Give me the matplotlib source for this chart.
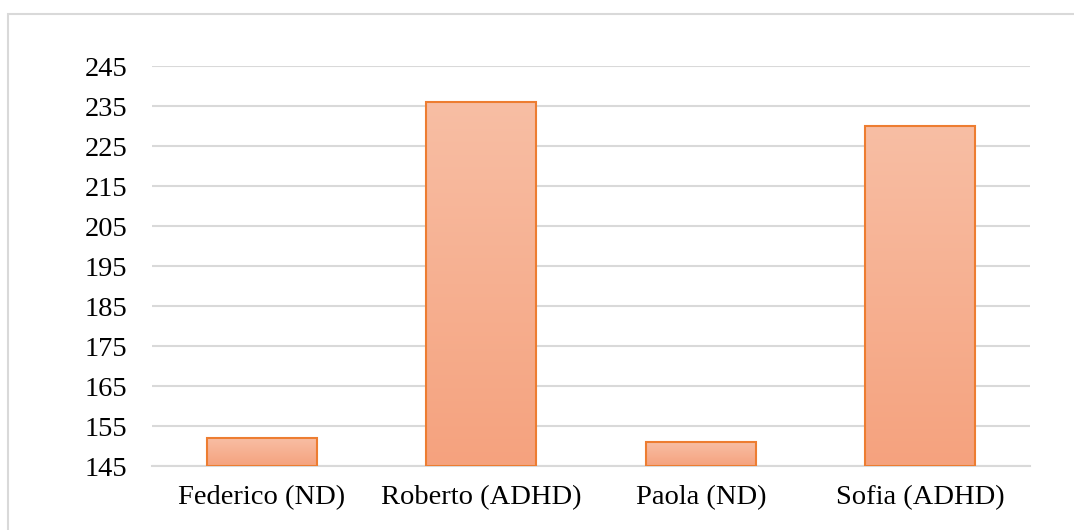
import matplotlib.pyplot as plt
import numpy as np
import matplotlib.patches as patches
from matplotlib.colors import LinearSegmentedColormap

# data
categories = ['Federico (ND)', 'Roberto (ADHD)', 'Paola (ND)', 'Sofia (ADHD)']
values = [152, 236, 151, 230]
y_ticks = [145, 155, 165, 175, 185, 195, 205, 215, 225, 235, 245]

plt.rcParams['font.family'] = ['Liberation Serif', 'DejaVu Serif']

W, H = 1074, 530
fig = plt.figure(figsize=(W / 100, H / 100), dpi=100)

# light grey frame round the chart area
frame = patches.Rectangle((8 / W, -0.1), 1.2, (H - 14) / H + 0.1, transform=fig.transFigure,
                          fill=False, edgecolor='#D9D9D9', linewidth=1.5, zorder=0)
fig.patches.append(frame)

ax = fig.add_axes([152 / W, (H - 466) / H, (1030 - 152) / W, (466 - 66) / H])

x = np.arange(len(categories))
bars = ax.bar(x, [v - y_ticks[0] for v in values], bottom=y_ticks[0], width=0.5,
              facecolor='none', edgecolor='#ED7D31', linewidth=1.5, zorder=3)

# vertical gradient inside each bar (light at top, darker at bottom)
cmap = LinearSegmentedColormap.from_list('grad', ['#F5A27E', '#F8BEA4'])
grad = np.linspace(0, 1, 256).reshape(-1, 1)
for b in bars:
    x0, y0 = b.get_x(), b.get_y()
    ax.imshow(grad, extent=(x0, x0 + b.get_width(), y0, y0 + b.get_height()),
              origin='lower', cmap=cmap, aspect='auto', zorder=2)

ax.set_xlim(-0.5, len(categories) - 0.5)
ax.set_ylim(y_ticks[0], y_ticks[-1])
ax.set_yticks(y_ticks)
ax.set_xticks(x)
ax.set_xticklabels(categories)
ax.tick_params(axis='both', length=0, labelsize=20.5, colors='black')
ax.tick_params(axis='y', pad=18)
ax.tick_params(axis='x', pad=14)

ax.yaxis.grid(True, color='#D9D9D9', linewidth=1.5)
ax.set_axisbelow(True)
for s in ['top', 'right', 'left']:
    ax.spines[s].set_visible(False)
ax.spines['bottom'].set_color('#D9D9D9')
ax.spines['bottom'].set_linewidth(1.5)

fig.savefig('out.png', dpi=100)
